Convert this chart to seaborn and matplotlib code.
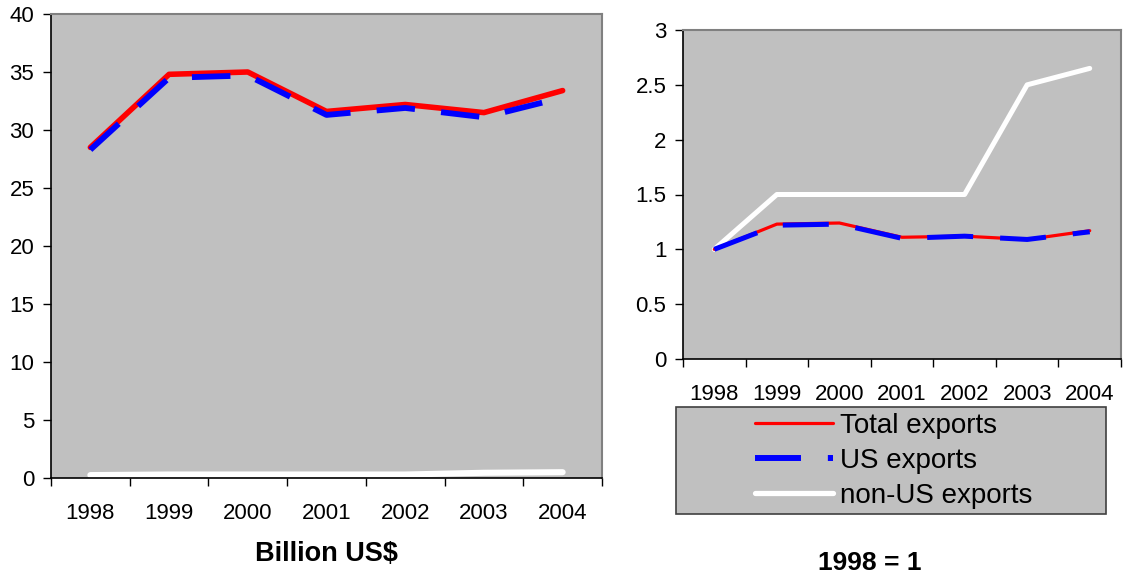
import matplotlib
matplotlib.use("Agg")
import matplotlib.pyplot as plt
import seaborn as sns
import pandas as pd
from matplotlib.patches import Rectangle
from matplotlib.lines import Line2D

years = ['1998', '1999', '2000', '2001', '2002', '2003', '2004']
total_bn = [28.5, 34.8, 35.0, 31.6, 32.2, 31.5, 33.4]
us_bn = [28.3, 34.5, 34.7, 31.3, 31.9, 31.1, 32.8]
nonus_bn = [0.25, 0.3, 0.3, 0.3, 0.3, 0.45, 0.5]
total_idx = [1.0, 1.23, 1.24, 1.11, 1.12, 1.09, 1.17]
us_idx = [1.0, 1.22, 1.23, 1.10, 1.12, 1.09, 1.16]
nonus_idx = [1.0, 1.5, 1.5, 1.5, 1.5, 2.5, 2.65]
left_yticks = [0, 5, 10, 15, 20, 25, 30, 35, 40]
right_yticks = [0, 0.5, 1, 1.5, 2, 2.5, 3]
right_ylabels = ['0', '0.5', '1', '1.5', '2', '2.5', '3']
series_names = ['Total exports', 'US exports', 'non-US exports']
left_title = 'Billion US$'
right_title = '1998 = 1'

sns.set_style("white")
plt.rcParams['font.family'] = ['Liberation Sans', 'DejaVu Sans']
plt.rcParams['text.color'] = 'black'
plt.rcParams['xtick.color'] = 'black'
plt.rcParams['ytick.color'] = 'black'
plt.rcParams['axes.labelcolor'] = 'black'

W, H = 1123, 577
fig = plt.figure(figsize=(W / 100, H / 100), dpi=100)

def fx(px):
    return px / W

def fy(py):
    return 1 - py / H

ax1 = fig.add_axes([fx(51), fy(478), fx(602 - 51), (478 - 14) / H])
ax2 = fig.add_axes([fx(683), fy(359), fx(1121 - 683), (359 - 30) / H])

pos = list(range(len(years)))

def style_axes(ax, yticks, ylabels, ymax):
    ax.set_facecolor('#C0C0C0')
    ax.set_xlim(-0.5, len(years) - 0.5)
    ax.set_ylim(0, ymax)
    ax.set_xticks([p - 0.5 for p in range(len(years) + 1)])
    ax.set_xticklabels([])
    ax.set_xticks(pos, minor=True)
    ax.set_xticklabels(years, minor=True)
    ax.tick_params(axis='x', which='major', direction='out', length=6, width=1, color='black', bottom=True)
    ax.tick_params(axis='x', which='minor', length=0, pad=18, labelsize=16, labelcolor='black')
    ax.set_yticks(yticks)
    ax.set_yticklabels(ylabels)
    ax.tick_params(axis='y', direction='out', length=6, width=1, color='black', left=True, pad=6,
                   labelsize=16, labelcolor='black')
    for s in ['top', 'right']:
        ax.spines[s].set_color('#808080')
        ax.spines[s].set_linewidth(1.5)
    for s in ['left', 'bottom']:
        ax.spines[s].set_color('black')
        ax.spines[s].set_linewidth(1.2)
    ax.set_xlabel('')
    ax.set_ylabel('')

# Left chart
df1 = pd.DataFrame({'pos': pos, 'total': total_bn, 'us': us_bn, 'nonus': nonus_bn})
sns.lineplot(data=df1, x='pos', y='total', ax=ax1, color='#FF0000', lw=4.0,
             solid_capstyle='round', solid_joinstyle='round')
sns.lineplot(data=df1, x='pos', y='us', ax=ax1, color='#0000FF', lw=4.2,
             linestyle=(0, (6.6, 4.5)), dash_capstyle='butt')
sns.lineplot(data=df1, x='pos', y='nonus', ax=ax1, color='white', lw=4.4,
             solid_capstyle='round')
style_axes(ax1, left_yticks, [str(v) for v in left_yticks], 40)

# Right chart
df2 = pd.DataFrame({'pos': pos, 'total': total_idx, 'us': us_idx, 'nonus': nonus_idx})
sns.lineplot(data=df2, x='pos', y='nonus', ax=ax2, color='white', lw=3.6,
             solid_capstyle='round')
sns.lineplot(data=df2, x='pos', y='total', ax=ax2, color='#FF0000', lw=2.3,
             solid_capstyle='round')
sns.lineplot(data=df2, x='pos', y='us', ax=ax2, color='#0000FF', lw=3.6,
             linestyle=(0, (9.2, 5.4)), dash_capstyle='butt')
style_axes(ax2, right_yticks, right_ylabels, 3)

# Legend box
fig.patches.append(Rectangle((fx(676), fy(514)), fx(1106 - 676), (514 - 407) / H,
                             transform=fig.transFigure, facecolor='#C0C0C0',
                             edgecolor='#404040', lw=1.2, zorder=0))
handles = [
    Line2D([], [], color='#FF0000', lw=2.3, solid_capstyle='round'),
    Line2D([], [], color='#0000FF', lw=4.3, linestyle=(0, (7.7, 4.5)), dash_capstyle='butt'),
    Line2D([], [], color='white', lw=3.8, solid_capstyle='round'),
]
fig.legend(handles, series_names, loc='center left',
           bbox_to_anchor=(fx(755), fy(461)), bbox_transform=fig.transFigure,
           frameon=False, fontsize=20, handlelength=2.8, handletextpad=0.25,
           labelspacing=0.33, borderpad=0, borderaxespad=0, labelcolor='black')

fig.text(fx(326), fy(554), left_title, ha='center', va='center', fontsize=19.5, fontweight='bold')
fig.text(fx(870), fy(563), right_title, ha='center', va='center', fontsize=19, fontweight='bold')

fig.savefig('out.png', dpi=100)
